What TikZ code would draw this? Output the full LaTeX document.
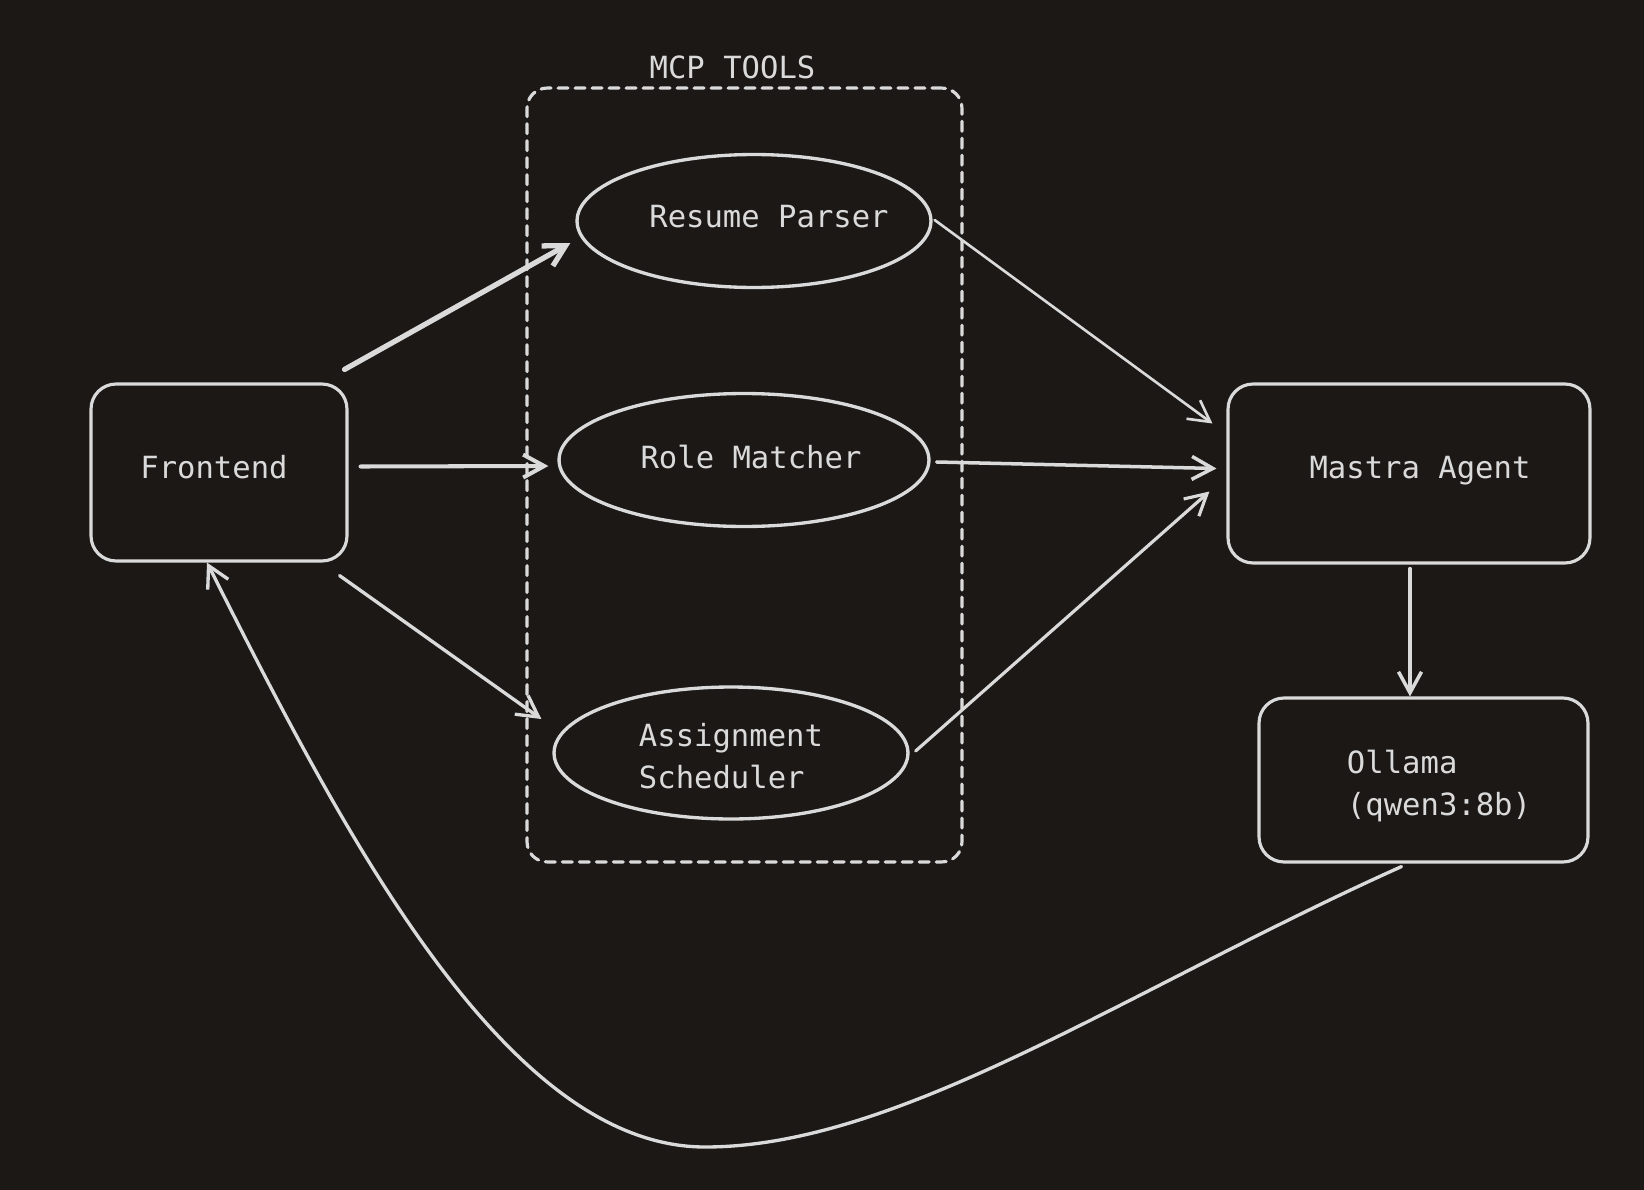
\documentclass[tikz,border=0pt]{standalone}
\usepackage{fontspec}
\setmonofont{DejaVu Sans Mono}
\usetikzlibrary{shapes.geometric,arrows.meta}
\definecolor{bg}{HTML}{1B1816}
\definecolor{ink}{HTML}{DADADA}
\begin{document}
\begin{tikzpicture}[x=0.02cm, y=-0.02cm, line join=round, line cap=round,
		font=\ttfamily\fontsize{17.4}{23.5}\selectfont, every node/.style={text=ink},
		box/.style={draw=ink, line width=1.8pt, rounded corners=0.5cm, inner sep=0pt},
		tool/.style={draw=ink, ellipse, line width=1.9pt, inner sep=0pt, minimum width=7.08cm, minimum height=2.66cm},
		arr/.style={draw=ink, line width=1.5pt, -{Straight Barb[length=0.42cm, width=0.46cm]}}]
	\fill[bg] (0,0) rectangle (1644,1190);
	\node[draw=ink, line width=1.8pt, dash pattern=on 0.2cm off 0.14cm, rounded corners=0.4cm, inner sep=0pt,
		minimum width=8.7cm, minimum height=15.48cm] (mcp) at (744.5,475) {};
	\node (mcpl) at ([shift={(-12,-19)}]mcp.north) {MCP TOOLS};
	\node[box, minimum width=5.12cm, minimum height=3.54cm] (fe) at (219,472.5) {};
	\node (fet) at ([shift={(-5,-5)}]fe.center) {Frontend};
	\node[box, minimum width=7.24cm, minimum height=3.58cm] (ma) at (1409,473.5) {};
	\node (mat) at ([shift={(11,-3)}]ma.center) {Mastra Agent};
	\node[box, minimum width=6.58cm, minimum height=3.28cm] (ol) at (1423.5,780) {};
	\node[align=left] (olt) at (1439,786) {Ollama\\(qwen3:8b)};
	\node[tool] (rp) at (754,221) {};
	\node (rpt) at ([shift={(15,-4)}]rp.center) {Resume Parser};
	\node[tool, minimum width=7.4cm] (rm) at (744,460) {};
	\node (rmt) at ([shift={(7,-3)}]rm.center) {Role Matcher};
	\node[tool, minimum height=2.64cm, align=left] (as) at (731,753) {};
	\node[align=left] (ast) at ([shift={(0,3)}]as.center) {Assignment\\Scheduler};
	\draw[arr, line width=3pt] ([shift={(-4,-13)}]fe.north east) -- ([shift={(-5,22)}]rp.west);
	\draw[arr, line width=2.3pt] ([shift={(12,-6)}]fe.east) -- ([shift={(-9,6)}]rm.west);
	\draw[arr, line width=1.9pt] ([shift={(-9,13)}]fe.south east) -- ([shift={(-11,-34)}]as.west);
	\draw[arr] ([shift={(2,-1)}]rp.east) -- ([shift={(-14,-50)}]ma.west);
	\draw[arr, line width=2pt] ([shift={(6,2)}]rm.east) -- ([shift={(-10,-5)}]ma.west);
	\draw[arr, line width=1.8pt] ([shift={(6,-2)}]as.east) -- ([shift={(-17,18)}]ma.west);
	\draw[arr, line width=2pt] ([shift={(1,4)}]ma.south) -- ([shift={(1,0)}]ma.south |- ol.north);
	\coordinate (low) at (705,1147);
	\draw[arr, line width=1.9pt] ([shift={(-22,3)}]ol.south) .. controls +(-274,123) and +(195,0) .. (low)
		.. controls +(-200,0) and +(135,268) .. ([xshift=-0.24cm]fe.south);
\end{tikzpicture}
\end{document}
